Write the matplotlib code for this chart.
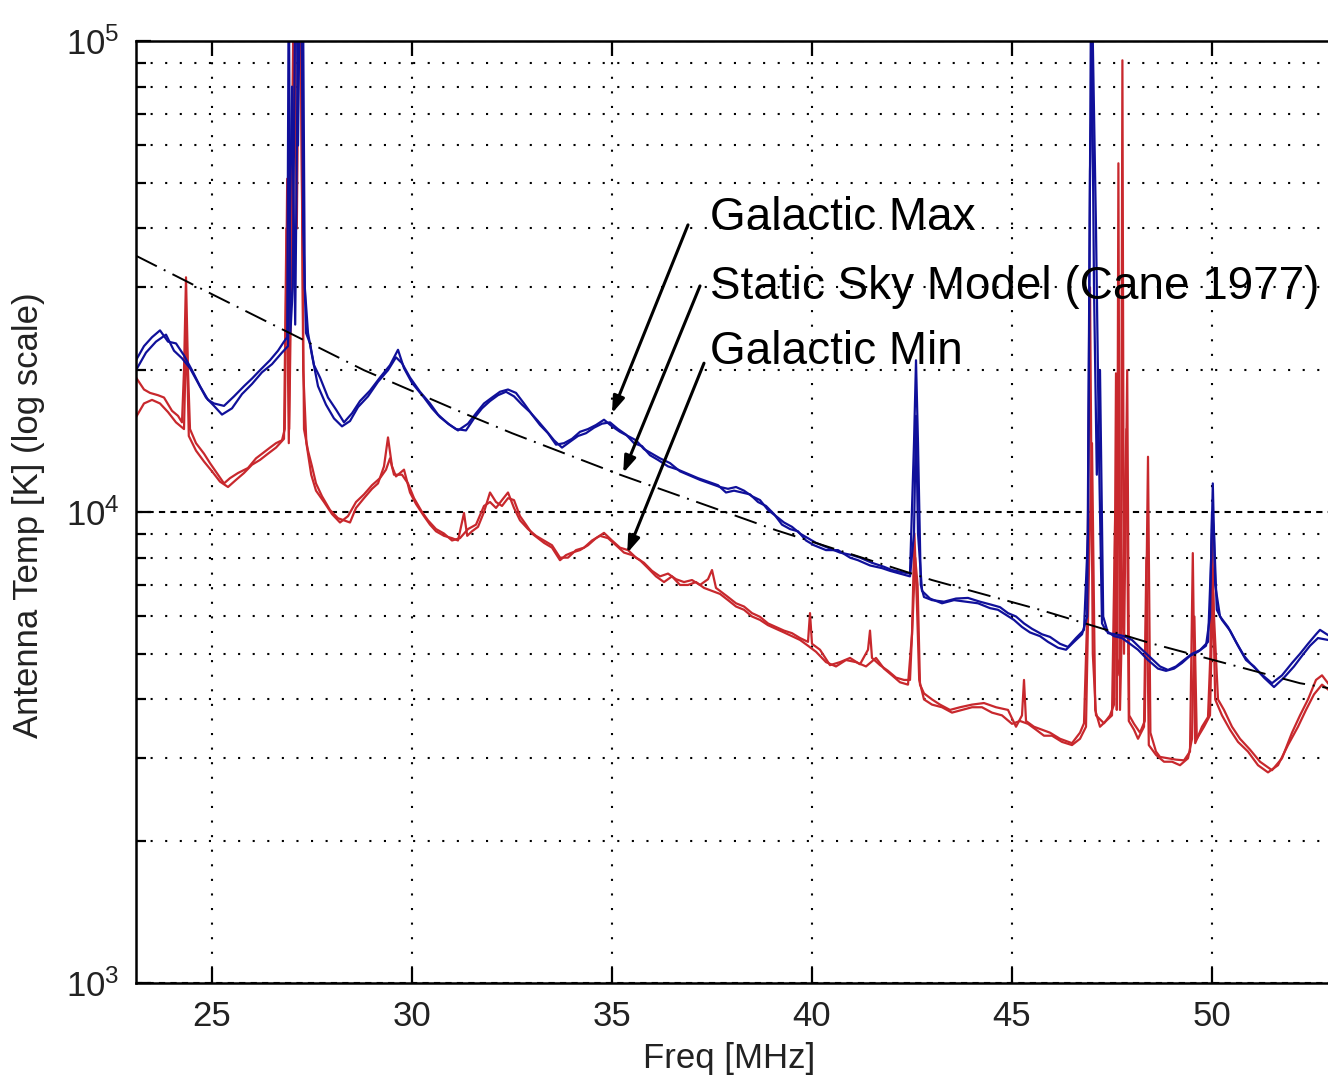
import matplotlib
matplotlib.use("Agg")
import matplotlib.pyplot as plt
from matplotlib.ticker import LogLocator, FixedLocator

plt.rcParams['font.family'] = ['Liberation Sans', 'DejaVu Sans']
plt.rcParams['mathtext.fontset'] = 'custom'
plt.rcParams['mathtext.rm'] = 'Liberation Sans'
plt.rcParams['mathtext.it'] = 'Liberation Sans'
plt.rcParams['mathtext.default'] = 'regular'

# galactic max, two passes (blue)
max_a_freq = [23.10, 23.30, 23.50, 23.70, 23.90, 24.10, 24.30, 24.50, 24.70, 24.90, 25.05, 25.30, 25.55, 25.80,
              26.00, 26.20, 26.45, 26.65, 26.80, 26.88, 26.92, 26.96, 27.02, 27.10, 27.15, 27.22, 27.28, 27.35,
              27.45, 27.55, 27.70, 27.90, 28.10, 28.30, 28.50, 28.70, 28.95, 29.20, 29.45, 29.65, 29.80, 30.00,
              30.30, 30.50, 30.70, 30.95, 31.15, 31.40, 31.60, 31.80, 32.00, 32.20, 32.40, 32.60, 32.80, 33.00,
              33.20, 33.40, 33.60, 33.80, 34.00, 34.20, 34.40, 34.60, 34.80, 35.00, 35.20, 35.40, 35.60, 35.80,
              36.00, 36.20, 36.45, 36.70, 37.00, 37.20, 37.45, 37.70, 37.90, 38.10, 38.30, 38.50, 38.70, 38.90,
              39.10, 39.30, 39.50, 39.70, 39.90, 40.10, 40.40, 40.70, 41.00, 41.20, 41.50, 41.80, 42.00, 42.25,
              42.45, 42.55, 42.60, 42.65, 42.72, 42.80, 43.00, 43.30, 43.60, 43.90, 44.20, 44.50, 44.70, 44.90,
              45.10, 45.30, 45.50, 45.75, 45.95, 46.20, 46.40, 46.60, 46.80, 46.90, 46.98, 47.05, 47.12, 47.20,
              47.28, 47.40, 47.60, 47.80, 48.00, 48.20, 48.45, 48.70, 48.90, 49.10, 49.30, 49.50, 49.70, 49.90,
              49.98, 50.02, 50.08, 50.20, 50.40, 50.60, 50.80, 50.95, 51.20, 51.50, 51.75, 52.00, 52.20, 52.40,
              52.60, 52.70, 52.90]
max_a_temp = [21000, 22500, 23500, 24300, 23000, 22800, 21500, 20000, 18500, 17300, 17000, 16800, 17600, 18500,
              19200, 20000, 21000, 22000, 23000, 23500, 150000, 24000, 30000, 200000, 60000, 200000, 40000, 24000,
              22800, 20500, 19300, 17500, 16500, 15500, 16200, 17200, 18100, 19300, 20500, 22100, 20200, 18800,
              17500, 16600, 15900, 15300, 14900, 15400, 16200, 17000, 17500, 18000, 18200, 17900, 17000, 16100,
              15300, 14700, 13900, 14000, 14300, 14800, 15000, 15300, 15700, 15200, 14800, 14500, 14200, 13600,
              13300, 13000, 12700, 12200, 11900, 11700, 11500, 11300, 11200, 11300, 11100, 10800, 10600, 10100,
              9800, 9500, 9300, 9000, 8800, 8600, 8400, 8200, 8100, 8000, 7800, 7650, 7530, 7450,
              7400, 14000, 21000, 14000, 7000, 6600, 6500, 6450, 6550, 6570, 6450, 6350, 6280, 6100,
              6000, 5800, 5650, 5500, 5430, 5250, 5170, 5400, 5620, 9000, 150000, 30000, 12000, 20000,
              6000, 5530, 5500, 5450, 5350, 5150, 4920, 4700, 4620, 4700, 4850, 5000, 5090, 5300,
              8000, 11500, 7000, 6000, 5700, 5300, 4950, 4780, 4550, 4330, 4500, 4780, 5000, 5250,
              5500, 5620, 5480]

max_b_freq = [23.10, 23.35, 23.60, 23.85, 24.05, 24.25, 24.45, 24.65, 24.85, 25.05, 25.25, 25.50, 25.75, 26.00,
              26.25, 26.50, 26.75, 26.90, 27.00, 27.08, 27.18, 27.26, 27.32, 27.40, 27.50, 27.65, 27.85, 28.05,
              28.25, 28.45, 28.65, 28.90, 29.15, 29.40, 29.60, 29.75, 29.95, 30.20, 30.45, 30.65, 30.90, 31.10,
              31.35, 31.55, 31.75, 31.95, 32.15, 32.35, 32.55, 32.75, 32.95, 33.15, 33.35, 33.55, 33.75, 33.95,
              34.15, 34.35, 34.55, 34.75, 34.95, 35.15, 35.35, 35.55, 35.75, 35.95, 36.15, 36.40, 36.65, 36.95,
              37.15, 37.40, 37.65, 37.85, 38.05, 38.25, 38.45, 38.65, 38.85, 39.05, 39.25, 39.45, 39.65, 39.85,
              40.05, 40.35, 40.65, 40.95, 41.15, 41.45, 41.75, 41.95, 42.20, 42.45, 42.55, 42.60, 42.65, 42.75,
              42.95, 43.25, 43.55, 43.85, 44.15, 44.45, 44.65, 44.85, 45.05, 45.25, 45.45, 45.70, 45.90, 46.15,
              46.35, 46.55, 46.75, 46.88, 46.95, 47.02, 47.10, 47.18, 47.25, 47.35, 47.55, 47.75, 47.95, 48.15,
              48.40, 48.65, 48.85, 49.05, 49.25, 49.45, 49.65, 49.85, 49.95, 50.00, 50.05, 50.12, 50.25, 50.45,
              50.65, 50.85, 51.05, 51.30, 51.55, 51.80, 52.05, 52.25, 52.45, 52.65, 52.90]
max_b_temp = [20000, 21800, 23000, 23800, 22000, 21200, 20200, 18800, 17500, 16800, 16100, 16600, 17800, 18700,
              19800, 20600, 21800, 22500, 80000, 25000, 200000, 200000, 30000, 24000, 21500, 18500, 16900, 15800,
              15200, 15600, 16700, 17600, 18900, 20000, 21300, 20700, 19300, 18000, 17000, 16100, 15400, 15000,
              14900, 15800, 16600, 17200, 17700, 18000, 17600, 16900, 16300, 15600, 14900, 14200, 13700, 14100,
              14500, 14700, 15100, 15400, 15500, 15000, 14600, 14000, 13800, 13200, 12900, 12500, 12300, 12000,
              11800, 11600, 11400, 11000, 11100, 11000, 10900, 10500, 10300, 9900, 9400, 9200, 9100, 8700,
              8500, 8300, 8300, 8000, 7900, 7700, 7600, 7500, 7400, 7300, 9000, 16000, 9000, 6800,
              6550, 6400, 6500, 6450, 6400, 6250, 6200, 6050, 5900, 5700, 5550, 5450, 5300, 5150,
              5100, 5300, 5500, 6000, 53000, 100000, 40000, 12500, 5800, 5600, 5450, 5400, 5250, 5100,
              4850, 4650, 4600, 4650, 4780, 4950, 5050, 5200, 6000, 10000, 9000, 6200, 5900, 5600,
              5200, 4850, 4700, 4450, 4250, 4450, 4700, 4950, 5200, 5400, 5350]

# galactic min, two passes (red)
min_a_freq = [23.10, 23.30, 23.45, 23.65, 23.80, 24.00, 24.15, 24.25, 24.30, 24.35, 24.40, 24.45, 24.60, 24.80,
              24.95, 25.15, 25.30, 25.45, 25.65, 25.90, 26.10, 26.30, 26.45, 26.60, 26.75, 26.82, 26.88, 26.93,
              27.00, 27.08, 27.15, 27.22, 27.30, 27.40, 27.50, 27.60, 27.75, 27.95, 28.15, 28.30, 28.45, 28.60,
              28.80, 29.00, 29.15, 29.30, 29.40, 29.50, 29.60, 29.80, 29.95, 30.10, 30.30, 30.45, 30.60, 30.80,
              31.00, 31.15, 31.25, 31.30, 31.38, 31.50, 31.65, 31.80, 31.95, 32.10, 32.25, 32.40, 32.55, 32.70,
              32.85, 33.00, 33.15, 33.30, 33.50, 33.70, 33.85, 34.00, 34.20, 34.40, 34.60, 34.80, 35.00, 35.20,
              35.40, 35.60, 35.80, 36.00, 36.20, 36.40, 36.60, 36.80, 37.00, 37.20, 37.40, 37.50, 37.60, 37.90,
              38.10, 38.30, 38.50, 38.70, 38.90, 39.10, 39.30, 39.50, 39.70, 39.90, 39.95, 40.00, 40.20, 40.45,
              40.70, 40.95, 41.20, 41.40, 41.45, 41.50, 41.70, 41.90, 42.10, 42.30, 42.45, 42.52, 42.58, 42.64,
              42.70, 42.80, 43.00, 43.20, 43.45, 43.70, 44.00, 44.30, 44.60, 44.90, 45.10, 45.25, 45.30, 45.35,
              45.55, 45.75, 45.95, 46.20, 46.50, 46.70, 46.80, 46.88, 46.95, 47.02, 47.10, 47.30, 47.45, 47.55,
              47.60, 47.64, 47.72, 47.76, 47.80, 47.88, 47.93, 48.05, 48.20, 48.32, 48.40, 48.46, 48.60, 48.70,
              48.90, 49.10, 49.30, 49.45, 49.52, 49.58, 49.75, 49.90, 49.96, 50.00, 50.05, 50.15, 50.30, 50.50,
              50.70, 50.95, 51.20, 51.50, 51.75, 52.00, 52.20, 52.40, 52.60, 52.75, 52.90]
min_a_temp = [19300, 18200, 17900, 17700, 17500, 16400, 16000, 15500, 20000, 31500, 20000, 15000, 14000, 13300,
              12700, 12000, 11500, 11800, 12100, 12400, 13000, 13400, 13700, 14000, 14200, 15000, 51000, 15000,
              40000, 200000, 200000, 100000, 15000, 13500, 12500, 11500, 10800, 10100, 9700, 9600, 9500, 10200,
              10700, 11200, 11500, 12500, 14400, 12500, 11900, 12300, 11000, 10400, 9800, 9400, 9100, 8900,
              8800, 8700, 9500, 9950, 8900, 9100, 9300, 10000, 11000, 10500, 10300, 10700, 10600, 9800,
              9400, 9000, 8800, 8600, 8400, 7900, 8100, 8200, 8300, 8500, 8800, 9030, 8700, 8400,
              8300, 8000, 7800, 7500, 7300, 7400, 7200, 7100, 7170, 7000, 7200, 7530, 6900, 6600,
              6400, 6300, 6100, 5990, 5800, 5700, 5600, 5530, 5400, 5300, 6100, 5250, 5100, 4730,
              4800, 4900, 4750, 5100, 5600, 4900, 4730, 4600, 4450, 4400, 4400, 6000, 8000, 7000,
              4300, 4120, 4000, 3900, 3800, 3850, 3900, 3930, 3850, 3800, 3500, 3700, 4400, 3600,
              3500, 3450, 3400, 3300, 3230, 3400, 3560, 6000, 30000, 5000, 3700, 3560, 3700, 3900,
              19700, 4500, 5000, 91000, 5000, 20000, 3700, 3550, 3400, 3600, 13100, 3400, 3100, 3020,
              3000, 2980, 2970, 3100, 8180, 3230, 3500, 3670, 5000, 9000, 6000, 4000, 3800, 3500,
              3300, 3130, 2950, 2830, 3000, 3400, 3700, 4000, 4400, 4500, 4330]

min_b_freq = [23.10, 23.30, 23.50, 23.70, 23.90, 24.10, 24.30, 24.36, 24.42, 24.60, 24.80, 25.00, 25.20, 25.40,
              25.60, 25.80, 26.00, 26.20, 26.40, 26.60, 26.80, 26.86, 26.92, 27.05, 27.12, 27.20, 27.28, 27.36,
              27.48, 27.60, 27.80, 28.00, 28.20, 28.40, 28.60, 28.80, 29.00, 29.20, 29.35, 29.45, 29.55, 29.75,
              29.90, 30.05, 30.25, 30.40, 30.60, 30.80, 31.00, 31.20, 31.40, 31.60, 31.80, 31.95, 32.10, 32.25,
              32.40, 32.55, 32.70, 32.90, 33.10, 33.30, 33.50, 33.70, 33.90, 34.10, 34.30, 34.50, 34.70, 34.90,
              35.10, 35.30, 35.50, 35.70, 35.90, 36.10, 36.30, 36.50, 36.70, 36.90, 37.10, 37.30, 37.50, 37.70,
              37.90, 38.10, 38.30, 38.50, 38.70, 38.90, 39.10, 39.30, 39.50, 39.70, 39.90, 40.10, 40.35, 40.60,
              40.85, 41.10, 41.35, 41.60, 41.80, 42.00, 42.20, 42.40, 42.50, 42.56, 42.62, 42.68, 42.80, 43.00,
              43.25, 43.50, 43.75, 44.00, 44.25, 44.50, 44.75, 45.00, 45.20, 45.40, 45.60, 45.80, 46.00, 46.25,
              46.50, 46.70, 46.85, 46.93, 47.00, 47.08, 47.20, 47.35, 47.50, 47.58, 47.62, 47.66, 47.70, 47.86,
              47.92, 48.05, 48.15, 48.30, 48.36, 48.42, 48.60, 48.80, 49.00, 49.20, 49.40, 49.50, 49.56, 49.62,
              49.80, 49.95, 50.02, 50.08, 50.25, 50.45, 50.65, 50.90, 51.15, 51.40, 51.65, 51.90, 52.15, 52.35,
              52.55, 52.75, 52.90]
min_b_temp = [15900, 17000, 17300, 17000, 16300, 15500, 15000, 25000, 14500, 13500, 12800, 12200, 11600, 11300,
              11700, 12100, 12600, 12900, 13300, 13700, 14300, 40000, 14000, 150000, 40000, 200000, 20000, 14000,
              12000, 11100, 10500, 9900, 9500, 9800, 10500, 10900, 11400, 11800, 12300, 13000, 12000, 12000,
              11500, 10700, 10000, 9600, 9200, 9000, 8700, 8800, 9200, 9400, 10300, 10500, 10200, 10600,
              11000, 10200, 9600, 9200, 8900, 8700, 8500, 8000, 8000, 8300, 8400, 8700, 8900, 8800,
              8500, 8200, 8100, 7900, 7600, 7300, 7100, 7300, 7000, 7000, 7100, 6900, 6800, 6700,
              6500, 6300, 6200, 6000, 5900, 5750, 5650, 5550, 5450, 5350, 5200, 5050, 4800, 4700,
              4850, 4800, 4700, 4900, 4650, 4500, 4350, 4300, 5500, 9000, 6500, 4400, 4000, 3900,
              3850, 3750, 3800, 3850, 3850, 3750, 3700, 3550, 3600, 3550, 3450, 3350, 3350, 3250,
              3200, 3300, 3500, 8000, 14000, 3800, 3500, 3600, 3700, 10000, 3800, 55000, 3800, 15000,
              3600, 3450, 3300, 3500, 8000, 3200, 3050, 2950, 2950, 2900, 3000, 3300, 6000, 3300,
              3500, 3700, 7000, 4000, 3700, 3450, 3250, 3100, 2900, 2800, 2900, 3200, 3500, 3800,
              4100, 4300, 4200]

# static sky model (Cane 1977)
cane_freq = [23.1, 25.0, 28.8, 31.3, 32.5, 35.2, 37.9, 39.1, 43.0, 45.7, 48.45, 52.2, 52.9]
cane_temp = [35000, 29000, 20000, 16200, 14700, 12000, 9950, 9150, 7170, 6200, 5270, 4330, 4230]

blue = "#10109a"
red = "#c8282d"

fig = plt.figure(figsize=(13.28, 10.82), dpi=100)
ax = fig.add_axes([136 / 1328, 1 - 983 / 1082, 1 - 136 / 1328, 942 / 1082])

ax.plot(min_a_freq, min_a_temp, color=red, lw=1.6)
ax.plot(min_b_freq, min_b_temp, color=red, lw=1.6)
ax.plot(max_a_freq, max_a_temp, color=blue, lw=1.6)
ax.plot(max_b_freq, max_b_temp, color=blue, lw=1.6)
ax.plot(cane_freq, cane_temp, color="black", lw=1.4, linestyle=(0, (12, 4, 1, 4)))

ax.set_yscale("log")
ax.set_xlim(23.1, 52.9)
ax.set_ylim(1e3, 1e5)
ax.xaxis.set_major_locator(FixedLocator([25, 30, 35, 40, 45, 50]))
ax.yaxis.set_minor_locator(LogLocator(base=10, subs=range(2, 10)))

# matlab style grid
ax.grid(True, axis="x", which="major", color="black", lw=1.5, linestyle=(0, (1, 6)))
ax.grid(True, axis="y", which="major", color="black", lw=1.5, linestyle=(0, (3, 2.5)))
ax.grid(True, axis="y", which="minor", color="black", lw=1.5, linestyle=(0, (1, 6)))

ax.spines["right"].set_visible(False)
for s in ["left", "top", "bottom"]:
    ax.spines[s].set_linewidth(1.8)
ax.tick_params(which="both", direction="in", top=True, right=False, width=1.6,
               labelsize=25, labelcolor="#222222")
ax.tick_params(which="major", length=11, pad=12)
ax.tick_params(which="minor", length=7)
ax.tick_params(axis="x", which="minor", top=False, bottom=False)

ax.set_xlabel("Freq [MHz]", fontsize=25, color="#222222")
ax.set_ylabel("Antenna Temp [K] (log scale)", fontsize=25, color="#222222")
ax.xaxis.set_label_coords(0.4975, -0.063)
ax.yaxis.set_label_coords(-0.076, 0.497)

# annotations with arrows
labels = ["Galactic Max", "Static Sky Model (Cane 1977)", "Galactic Min"]
label_pos = [(37.45, 42100), (37.45, 30000), (37.45, 21900)]
arrow_from = [(36.9, 40700), (37.2, 30200), (37.3, 20700)]
arrow_to = [(35.0, 16200), (35.28, 12100), (35.38, 8180)]
for txt, pos, a0, a1 in zip(labels, label_pos, arrow_from, arrow_to):
    ax.text(pos[0], pos[1], txt, fontsize=33, ha="left", va="center", clip_on=False)
    ax.annotate("", xy=a1, xytext=a0,
                arrowprops=dict(arrowstyle="-|>,head_length=1.0,head_width=0.35", color="black", lw=2.2,
                                shrinkA=0, shrinkB=0))

fig.savefig("out.png", dpi=100)
